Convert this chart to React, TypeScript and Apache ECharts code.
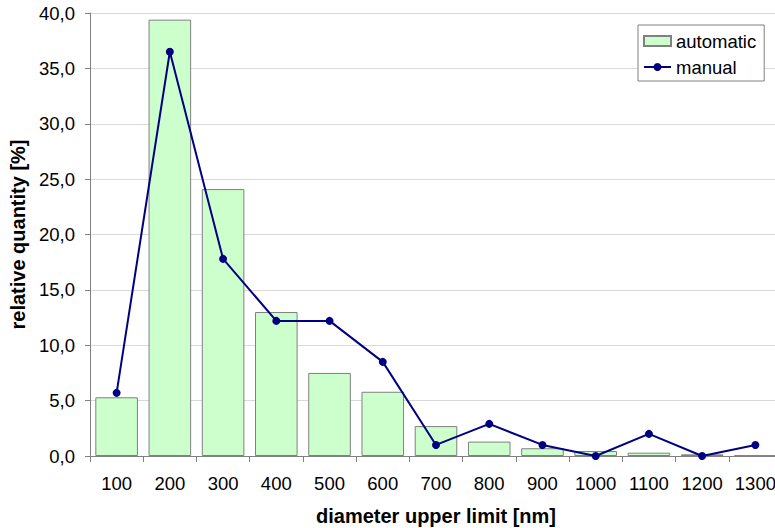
import React, { useEffect, useRef } from "react";
import * as echarts from "echarts";

const categories = ["100", "200", "300", "400", "500", "600", "700", "800", "900", "1000", "1100", "1200", "1300"];
const automaticValues = [5.3, 39.4, 24.1, 13.0, 7.5, 5.8, 2.7, 1.3, 0.7, 0.45, 0.3, 0.15, 0.05];
const manualValues = [5.7, 36.5, 17.8, 12.2, 12.2, 8.5, 1.0, 2.9, 1.0, 0.0, 2.0, 0.0, 1.0];
const yMin = 0;
const yMax = 40;
const yInterval = 5;

const FONT = "'Liberation Sans', Arial, sans-serif";

export default function App() {
  const ref = useRef<HTMLDivElement>(null);
  useEffect(() => {
    if (!ref.current) return;
    const chart = echarts.init(ref.current, undefined, { renderer: "svg" });
    chart.setOption({
      animation: false,
      backgroundColor: "#ffffff",
      textStyle: { fontFamily: FONT },
      grid: { left: 90, top: 13, bottom: 72, right: -7, containLabel: false, outerBoundsMode: "none" },
      legend: {
        orient: "vertical",
        left: 638,
        top: 25,
        padding: [6, 8, 4, 5],
        itemGap: 6,
        itemWidth: 27,
        itemHeight: 10,
        backgroundColor: "#ffffff",
        borderColor: "#808080",
        borderWidth: 1,
        borderRadius: 0,
        textStyle: { fontSize: 18.5, color: "#000", fontFamily: FONT, lineHeight: 20 },
        data: [
          { name: "automatic", icon: "rect" },
          { name: "manual" },
        ],
      },
      xAxis: {
        type: "category",
        data: categories,
        name: "diameter upper limit [nm]",
        nameLocation: "middle",
        nameGap: 50,
        nameTextStyle: { fontSize: 20, fontWeight: "bold", color: "#000", fontFamily: FONT, lineHeight: 20 },
        axisLine: { lineStyle: { color: "#808080", width: 1 } },
        axisTick: { show: true, alignWithLabel: false, interval: 0, length: 6, lineStyle: { color: "#808080" } },
        axisLabel: { fontSize: 18.5, color: "#000", margin: 18, interval: 0, fontFamily: FONT },
        splitLine: { show: false },
      },
      yAxis: {
        type: "value",
        min: yMin,
        max: yMax,
        interval: yInterval,
        name: "relative quantity [%]",
        nameLocation: "middle",
        nameGap: 62,
        nameTextStyle: { fontSize: 20, fontWeight: "bold", color: "#000", fontFamily: FONT },
        axisLine: { show: true, lineStyle: { color: "#808080", width: 1 } },
        axisTick: { show: true, length: 5, lineStyle: { color: "#808080" } },
        axisLabel: {
          fontSize: 18.5,
          color: "#000",
          margin: 15,
          fontFamily: FONT,
          formatter: (v: number) => v.toFixed(1).replace(".", ","),
        },
        splitLine: { show: true, lineStyle: { color: "#d9d9d9", width: 1 } },
      },
      series: [
        {
          name: "automatic",
          type: "bar",
          data: automaticValues,
          barCategoryGap: "20%",
          itemStyle: { color: "#ccffcc", borderColor: "#808080", borderWidth: 1 },
        },
        {
          name: "manual",
          type: "line",
          data: manualValues,
          symbol: "circle",
          symbolSize: 8,
          lineStyle: { color: "#000080", width: 2 },
          itemStyle: { color: "#000080" },
        },
      ],
    });
    return () => chart.dispose();
  }, []);
  return (
    <div
      ref={ref}
      style={{ position: "fixed", left: 0, top: 0, width: 775, height: 528 }}
    />
  );
}
